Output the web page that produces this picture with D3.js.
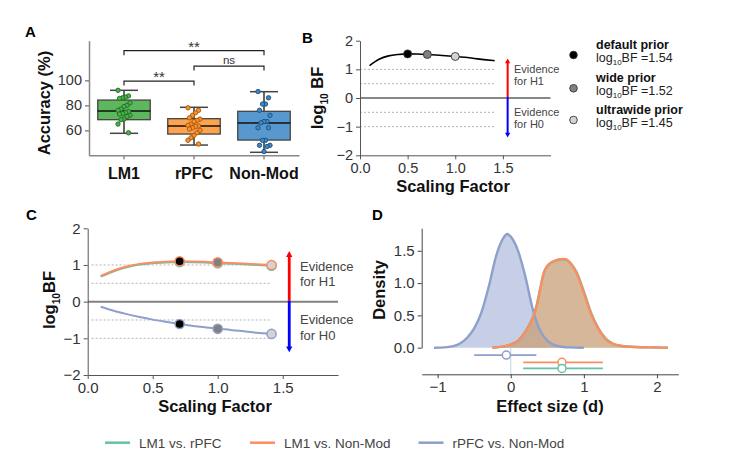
<!DOCTYPE html>
<html><head><meta charset="utf-8">
<script src="https://cdn.jsdelivr.net/npm/d3@7"></script>
<style>
body{margin:0;background:#fff}
svg{display:block;font-family:"Liberation Sans",Arial,Helvetica,sans-serif}
</style>
</head><body>
<svg id="chart" width="734" height="454"></svg>
<script>
// ---------------- DATA ----------------
// Panel A
const groups = ["LM1", "rPFC", "Non-Mod"];
const boxLo  = [57.6, 48.2, 42.4];
const boxQ1  = [68.5, 57.0, 52.2];
const boxMed = [75.4, 63.4, 65.8];
const boxQ3  = [84.2, 69.3, 75.2];
const boxHi  = [92.0, 78.4, 90.9];
const ptsLM1 = [92, 87.5, 86.5, 86, 85.5, 82, 80, 79, 77, 76, 75, 74, 73.5, 73, 72, 71, 69, 68.5, 65, 58];
const ptsRPFC = [78, 76, 74, 72, 70, 69, 68, 67, 65, 64, 63.5, 63, 62, 61, 60, 58, 56, 54, 52, 49];
const ptsNonMod = [91, 86, 81, 81, 76, 72, 67, 67, 66, 62, 62, 52, 52, 48, 48, 47, 43];
const accTicks = [60, 80, 100];
const brackets = [
  {from: "LM1", to: "rPFC", y: 99.4, label: "**"},
  {from: "rPFC", to: "Non-Mod", y: 111.4, label: "ns"},
  {from: "LM1", to: "Non-Mod", y: 123.7, label: "**"}
];
// Panel B
const sfB = [0.1, 0.2, 0.3, 0.4, 0.5, 0.6, 0.7, 0.8, 0.9, 1.0, 1.1, 1.2, 1.3, 1.414];
const bfB = [1.13, 1.35, 1.47, 1.52, 1.54, 1.535, 1.52, 1.50, 1.475, 1.45, 1.42, 1.38, 1.34, 1.30];
const priorNames = ["default prior", "wide prior", "ultrawide prior"];
const priorSF = [0.5, 0.707, 1.0];
const priorBF = [1.54, 1.52, 1.45];
const priorColors = ["#000000", "#808080", "#d3d3d3"];
const bfTicks = [-2, -1, 0, 1, 2];
const sfTicks = [0.0, 0.5, 1.0, 1.5];
const guideLevels = [1, 0.5, -0.5, -1];
// Panel C
const sfC = [0.1, 0.2, 0.3, 0.4, 0.5, 0.6, 0.707, 0.8, 0.9, 1.0, 1.1, 1.2, 1.3, 1.414];
const bfC_lm1_rpfc   = [0.68, 0.83, 0.94, 1.01, 1.05, 1.07, 1.08, 1.075, 1.065, 1.05, 1.035, 1.02, 1.00, 0.98];
const bfC_lm1_nonmod = [0.70, 0.85, 0.96, 1.03, 1.07, 1.09, 1.10, 1.095, 1.085, 1.07, 1.055, 1.04, 1.02, 1.00];
const bfC_rpfc_nonmod = [-0.14, -0.25, -0.34, -0.42, -0.49, -0.55, -0.61, -0.66, -0.70, -0.74, -0.77, -0.81, -0.85, -0.88];
const priorSFC = [0.707, 1.0, 1.414];
// Panel D
const densX_blue = [-1.05, -0.9, -0.8, -0.7, -0.6, -0.5, -0.4, -0.3, -0.2, -0.1, -0.05, 0, 0.1, 0.2, 0.3, 0.4, 0.5, 0.6, 0.7, 0.8, 1.0];
const densY_blue = [0, 0.005, 0.02, 0.06, 0.15, 0.3, 0.55, 0.95, 1.42, 1.70, 1.76, 1.72, 1.5, 1.1, 0.6, 0.27, 0.11, 0.04, 0.015, 0.005, 0];
const densX_orange = [-0.25, -0.1, 0, 0.1, 0.2, 0.3, 0.35, 0.4, 0.45, 0.5, 0.6, 0.7, 0.75, 0.8, 0.9, 1.0, 1.1, 1.2, 1.3, 1.4, 1.5, 1.7, 2.0, 2.15];
const densY_orange = [0, 0.02, 0.05, 0.11, 0.24, 0.46, 0.62, 0.88, 1.15, 1.27, 1.345, 1.375, 1.37, 1.33, 1.16, 0.85, 0.52, 0.29, 0.13, 0.06, 0.03, 0.01, 0.003, 0];
const densX_green = [-0.25, -0.1, 0, 0.1, 0.2, 0.3, 0.35, 0.4, 0.45, 0.5, 0.6, 0.7, 0.75, 0.8, 0.9, 1.0, 1.1, 1.2, 1.3, 1.4, 1.5, 1.7, 2.0, 2.15];
const densY_green = [0, 0.02, 0.05, 0.11, 0.25, 0.47, 0.64, 0.90, 1.15, 1.26, 1.34, 1.37, 1.365, 1.33, 1.17, 0.87, 0.54, 0.30, 0.14, 0.06, 0.03, 0.01, 0.003, 0];
const ciNames = ["rPFC vs. Non-Mod", "LM1 vs. Non-Mod", "LM1 vs. rPFC"];
const ciLo  = [-0.50, 0.17, 0.17];
const ciMid = [-0.06, 0.70, 0.70];
const ciHi  = [0.35, 1.26, 1.26];
const densTicks = [0.0, 0.5, 1.0, 1.5];
const effTicks = [-1, 0, 1, 2];
// Legend
const compNames = ["LM1 vs. rPFC", "LM1 vs. Non-Mod", "rPFC vs. Non-Mod"];

// ---------------- STYLE ----------------
const boxFill = ["#5db75d", "#fda24e", "#5799cf"];
const ptFill = ["#4fae4f", "#f7922f", "#3f86c2"];
const ptStroke = ["#1f6e1f", "#a8560c", "#1d4f80"];
const compColor = {"LM1 vs. rPFC": "#66c2a5", "LM1 vs. Non-Mod": "#fc8d62", "rPFC vs. Non-Mod": "#8da0cb"};
const FONT = '"Liberation Sans",Arial,Helvetica,sans-serif';

const svg = d3.select("#chart");
svg.append("rect").attr("width", 734).attr("height", 454).attr("fill", "#fff");

function styleAxis(g, color, width, fs, tcolor) {
  g.selectAll(".domain").attr("stroke", color).attr("stroke-width", width);
  g.selectAll(".tick line").attr("stroke", color).attr("stroke-width", width);
  g.selectAll(".tick text").attr("fill", tcolor).style("font-size", fs + "px").style("font-family", FONT);
}
function panelLabel(t, x, y) {
  svg.append("text").attr("x", x).attr("y", y).text(t)
    .style("font-weight", "bold").style("font-size", "15px").attr("fill", "#000");
}
function logLabel(g, x, y, rot, fs, space) {
  const t = g.append("text").attr("transform", `translate(${x},${y}) rotate(${rot})`)
    .attr("text-anchor", "middle").style("font-weight", "bold").style("font-size", fs + "px").attr("fill", "#111");
  t.append("tspan").text("log");
  t.append("tspan").text("10").style("font-size", (fs * 0.62) + "px").attr("dy", fs * 0.3);
  t.append("tspan").text((space ? " " : "") + "BF").attr("dy", -fs * 0.3);
}
function arrows(g, x, y0, yUp, yDn, w, hs) {
  const defs = svg.select("defs").empty() ? svg.append("defs") : svg.select("defs");
  [["red", yUp], ["blue", yDn]].forEach(([c, yy]) => {
    const dir = yy < y0 ? -1 : 1;
    g.append("line").attr("x1", x).attr("x2", x).attr("y1", y0).attr("y2", yy - dir * hs * 1.2)
      .attr("stroke", c).attr("stroke-width", w);
    g.append("path")
      .attr("d", `M${x - hs * 0.75},${yy - dir * hs * 1.4} L${x},${yy} L${x + hs * 0.75},${yy - dir * hs * 1.4} Z`)
      .attr("fill", c);
  });
}

// ---------------- PANEL A ----------------
(function () {
  const g = svg.append("g");
  const x = d3.scaleBand().domain(groups).range([89, 299]).padding(0);
  const y = d3.scaleLinear().domain([40, 131.7]).range([155.3, 40.7]);
  const bw = x.bandwidth() * 0.75, cw = 28;
  const ax = g.append("g").attr("transform", "translate(0,155.3)")
    .call(d3.axisBottom(x).tickSize(4).tickSizeOuter(0));
  styleAxis(ax, "#888", 1.5, 16, "#111");
  ax.selectAll(".tick text").style("font-weight", "bold").attr("dy", "1.05em");
  const ay = g.append("g").attr("transform", "translate(89,0)")
    .call(d3.axisLeft(y).tickValues(accTicks).tickSize(4).tickSizeOuter(0));
  styleAxis(ay, "#888", 1.5, 14.5, "#333");
  const pts = [ptsLM1, ptsRPFC, ptsNonMod];
  groups.forEach((gr, i) => {
    const cx = x(gr) + x.bandwidth() / 2;
    g.append("line").attr("x1", cx).attr("x2", cx).attr("y1", y(boxHi[i])).attr("y2", y(boxQ3[i])).attr("stroke", "#333").attr("stroke-width", 1.5);
    g.append("line").attr("x1", cx).attr("x2", cx).attr("y1", y(boxQ1[i])).attr("y2", y(boxLo[i])).attr("stroke", "#333").attr("stroke-width", 1.5);
    [boxHi[i], boxLo[i]].forEach(v => g.append("line").attr("x1", cx - cw / 2).attr("x2", cx + cw / 2)
      .attr("y1", y(v)).attr("y2", y(v)).attr("stroke", "#444").attr("stroke-width", 1.5));
    g.append("rect").attr("x", cx - bw / 2).attr("width", bw).attr("y", y(boxQ3[i])).attr("height", y(boxQ1[i]) - y(boxQ3[i]))
      .attr("fill", boxFill[i]).attr("stroke", "#444").attr("stroke-width", 1.3);
    g.append("line").attr("x1", cx - bw / 2).attr("x2", cx + bw / 2).attr("y1", y(boxMed[i])).attr("y2", y(boxMed[i]))
      .attr("stroke", "#111").attr("stroke-width", 1.5);
    g.selectAll(null).data(pts[i]).join("circle")
      .attr("cx", (d, j) => cx + (((j * 7) % 9) - 4) * 1.5)
      .attr("cy", d => y(d)).attr("r", 2.2)
      .attr("fill", ptFill[i]).attr("stroke", ptStroke[i]).attr("stroke-width", 0.9);
  });
  brackets.forEach(b => {
    const x1 = x(b.from) + x.bandwidth() / 2, x2 = x(b.to) + x.bandwidth() / 2;
    g.append("path").attr("d", `M${x1},${y(b.y - 3.6)} V${y(b.y)} H${x2} V${y(b.y - 3.6)}`)
      .attr("fill", "none").attr("stroke", "#222").attr("stroke-width", 1.2);
    g.append("text").attr("x", (x1 + x2) / 2).attr("y", y(b.y) - (b.label === "ns" ? 2.5 : -1))
      .attr("text-anchor", "middle").text(b.label)
      .style("font-size", b.label === "ns" ? "11.5px" : "15px").attr("fill", "#333");
  });
  g.append("text").attr("transform", "translate(50,103) rotate(-90)").attr("text-anchor", "middle")
    .text("Accuracy (%)").style("font-weight", "bold").style("font-size", "16.5px").attr("fill", "#111");
  panelLabel("A", 25, 37);
})();

// ---------------- PANEL B ----------------
(function () {
  const g = svg.append("g");
  const x = d3.scaleLinear().domain([0, 2]).range([360, 550.5]);
  const y = d3.scaleLinear().domain([-2, 2]).range([155.3, 40.7]);
  guideLevels.forEach(v => g.append("line").attr("x1", x(0)).attr("x2", x(1.42)).attr("y1", y(v)).attr("y2", y(v))
    .attr("stroke", "#aaa").attr("stroke-width", 0.9).attr("stroke-dasharray", "2,2"));
  g.append("line").attr("x1", x(0)).attr("x2", x(2)).attr("y1", y(0)).attr("y2", y(0)).attr("stroke", "#111").attr("stroke-width", 1.2);
  const ax = g.append("g").attr("transform", `translate(0,${y(-2)})`)
    .call(d3.axisBottom(x).tickValues(sfTicks).tickFormat(d3.format(".1f")).tickSize(4).tickSizeOuter(0));
  styleAxis(ax, "#555", 1, 14.5, "#333");
  const ay = g.append("g").attr("transform", `translate(${x(0)},0)`)
    .call(d3.axisLeft(y).tickValues(bfTicks).tickFormat(d3.format("d")).tickSize(4).tickSizeOuter(0));
  styleAxis(ay, "#555", 1, 14.5, "#333");
  const line = d3.line().x((d, i) => x(sfB[i])).y(d => y(d)).curve(d3.curveMonotoneX);
  g.append("path").attr("d", line(bfB)).attr("fill", "none").attr("stroke", "#000").attr("stroke-width", 1.6);
  priorSF.forEach((s, i) => g.append("circle").attr("cx", x(s)).attr("cy", y(priorBF[i])).attr("r", 4)
    .attr("fill", priorColors[i]).attr("stroke", "#333").attr("stroke-width", 0.9));
  arrows(g, x(1.55), y(0) - 1, y(1.38), y(-1.38), 2, 3.5);
  [["Evidence", 1.0], ["for H1", 0.6], ["Evidence", -0.5], ["for H0", -0.9]].forEach(([t, v]) =>
    g.append("text").attr("x", 514).attr("y", y(v) + 4).text(t).style("font-size", "11px").attr("fill", "#444"));
  logLabel(g, 323, 98, -90, 16.5, true);
  g.append("text").attr("x", 453).attr("y", 192).attr("text-anchor", "middle").text("Scaling Factor")
    .style("font-weight", "bold").style("font-size", "16.5px").attr("fill", "#111");
  // prior legend
  const ly = [55, 88.3, 120];
  priorNames.forEach((n, i) => {
    g.append("circle").attr("cx", 573.5).attr("cy", ly[i]).attr("r", 3.8).attr("fill", priorColors[i])
      .attr("stroke", "#333").attr("stroke-width", 0.9);
    g.append("text").attr("x", 596).attr("y", ly[i] - 6.5).text(n).style("font-weight", "bold").style("font-size", "12.5px").attr("fill", "#111");
    const t = g.append("text").attr("x", 596).attr("y", ly[i] + 6.5).style("font-size", "12.5px").attr("fill", "#222");
    t.append("tspan").text("log");
    t.append("tspan").text("10").style("font-size", "8px").attr("dy", 3.5);
    t.append("tspan").text("BF =" + d3.format(".2f")(priorBF[i])).attr("dy", -3.5);
  });
  panelLabel("B", 302, 43);
})();

// ---------------- PANEL C ----------------
(function () {
  const g = svg.append("g");
  const x = d3.scaleLinear().domain([0, 1.925]).range([87.7, 338]);
  const y = d3.scaleLinear().domain([-2, 2]).range([375, 228.3]);
  guideLevels.forEach(v => g.append("line").attr("x1", x(0.03)).attr("x2", x(1.415)).attr("y1", y(v)).attr("y2", y(v))
    .attr("stroke", "#aaa").attr("stroke-width", 0.9).attr("stroke-dasharray", "2,2"));
  g.append("line").attr("x1", x(0)).attr("x2", x(1.925)).attr("y1", y(0)).attr("y2", y(0)).attr("stroke", "#808080").attr("stroke-width", 2);
  const ax = g.append("g").attr("transform", `translate(0,${y(-2)})`)
    .call(d3.axisBottom(x).tickValues(sfTicks).tickFormat(d3.format(".1f")).tickSize(4).tickSizeOuter(0));
  styleAxis(ax, "#555", 1, 15, "#333");
  const ay = g.append("g").attr("transform", `translate(${x(0)},0)`)
    .call(d3.axisLeft(y).tickValues(bfTicks).tickFormat(d3.format("d")).tickSize(4).tickSizeOuter(0));
  styleAxis(ay, "#555", 1, 15, "#333");
  const line = d3.line().x((d, i) => x(sfC[i])).y(d => y(d)).curve(d3.curveMonotoneX);
  const series = [["LM1 vs. rPFC", bfC_lm1_rpfc], ["LM1 vs. Non-Mod", bfC_lm1_nonmod], ["rPFC vs. Non-Mod", bfC_rpfc_nonmod]];
  series.forEach(([n, arr]) => {
    g.append("path").attr("d", line(arr)).attr("fill", "none").attr("stroke", compColor[n]).attr("stroke-width", 2);
    priorSFC.forEach((s, k) => {
      const idx = sfC.indexOf(s);
      g.append("circle").attr("cx", x(s)).attr("cy", y(arr[idx])).attr("r", 4.6)
        .attr("fill", priorColors[k]).attr("stroke", compColor[n]).attr("stroke-width", 1.5);
    });
  });
  arrows(g, x(1.55), y(0) - 1, y(1.38), y(-1.38), 2.8, 4.2);
  [["Evidence", 0.97], ["for H1", 0.56], ["Evidence", -0.5], ["for H0", -0.92]].forEach(([t, v]) =>
    g.append("text").attr("x", 300).attr("y", y(v) + 4.5).text(t).style("font-size", "13px").attr("fill", "#444"));
  logLabel(g, 55, 300, -90, 16.5, false);
  g.append("text").attr("x", 215).attr("y", 412).attr("text-anchor", "middle").text("Scaling Factor")
    .style("font-weight", "bold").style("font-size", "16.5px").attr("fill", "#111");
  panelLabel("C", 26, 220);
})();

// ---------------- PANEL D ----------------
(function () {
  const g = svg.append("g");
  const x = d3.scaleLinear().domain([-1.218, 2.292]).range([421.7, 678.3]);
  const y = d3.scaleLinear().domain([0, 1.85]).range([347.7, 228.2]);
  const yr = d3.scaleLinear().domain([-0.41, 0]).range([374.3, 347.7]);
  g.append("line").attr("x1", x(0)).attr("x2", x(0)).attr("y1", yr(0)).attr("y2", yr(-0.41))
    .attr("stroke", "#c6dcea").attr("stroke-width", 1.2);
  const dens = [["rPFC vs. Non-Mod", densX_blue, densY_blue], ["LM1 vs. rPFC", densX_green, densY_green], ["LM1 vs. Non-Mod", densX_orange, densY_orange]];
  const area = (xs) => d3.area().x((d, i) => x(xs[i])).y0(y(0)).y1(d => y(d)).curve(d3.curveMonotoneX);
  const ln = (xs) => d3.line().x((d, i) => x(xs[i])).y(d => y(d)).curve(d3.curveMonotoneX);
  dens.forEach(([n, xs, ys]) => g.append("path").attr("d", area(xs)(ys)).attr("fill", compColor[n]).attr("fill-opacity", 0.5));
  dens.forEach(([n, xs, ys]) => g.append("path").attr("d", ln(xs)(ys)).attr("fill", "none").attr("stroke", compColor[n]).attr("stroke-width", 2.4));
  const ay = g.append("g").attr("transform", `translate(421.7,0)`)
    .call(d3.axisLeft(y).tickValues(densTicks).tickFormat(d3.format(".1f")).tickSize(4).tickSizeOuter(0));
  styleAxis(ay, "#444", 1, 15, "#333");
  const ax = g.append("g").attr("transform", `translate(0,${yr(-0.41)})`)
    .call(d3.axisBottom(x).tickValues(effTicks).tickFormat(d3.format("d")).tickSize(4).tickSizeOuter(0));
  styleAxis(ax, "#444", 1, 15, "#333");
  const rowY = [-0.113, -0.226, -0.319];
  ciNames.forEach((n, i) => {
    g.append("line").attr("x1", x(ciLo[i])).attr("x2", x(ciHi[i])).attr("y1", yr(rowY[i])).attr("y2", yr(rowY[i]))
      .attr("stroke", compColor[n]).attr("stroke-width", 1.8);
    g.append("circle").attr("cx", x(ciMid[i])).attr("cy", yr(rowY[i])).attr("r", 4)
      .attr("fill", "#fff").attr("stroke", compColor[n]).attr("stroke-width", 1.5);
  });
  g.append("text").attr("transform", "translate(385,290) rotate(-90)").attr("text-anchor", "middle")
    .text("Density").style("font-weight", "bold").style("font-size", "16.5px").attr("fill", "#111");
  g.append("text").attr("x", 550).attr("y", 412).attr("text-anchor", "middle").text("Effect size (d)")
    .style("font-weight", "bold").style("font-size", "16.5px").attr("fill", "#111");
  panelLabel("D", 372, 220);
})();

// ---------------- BOTTOM LEGEND ----------------
(function () {
  const g = svg.append("g");
  const lx = [105, 250, 418.5];
  compNames.forEach((n, i) => {
    g.append("line").attr("x1", lx[i]).attr("x2", lx[i] + 25).attr("y1", 442.7).attr("y2", 442.7)
      .attr("stroke", compColor[n]).attr("stroke-width", 2.5);
    g.append("text").attr("x", lx[i] + 34).attr("y", 447.5).text(n).style("font-size", "13.5px").attr("fill", "#444");
  });
})();
</script>
</body></html>
